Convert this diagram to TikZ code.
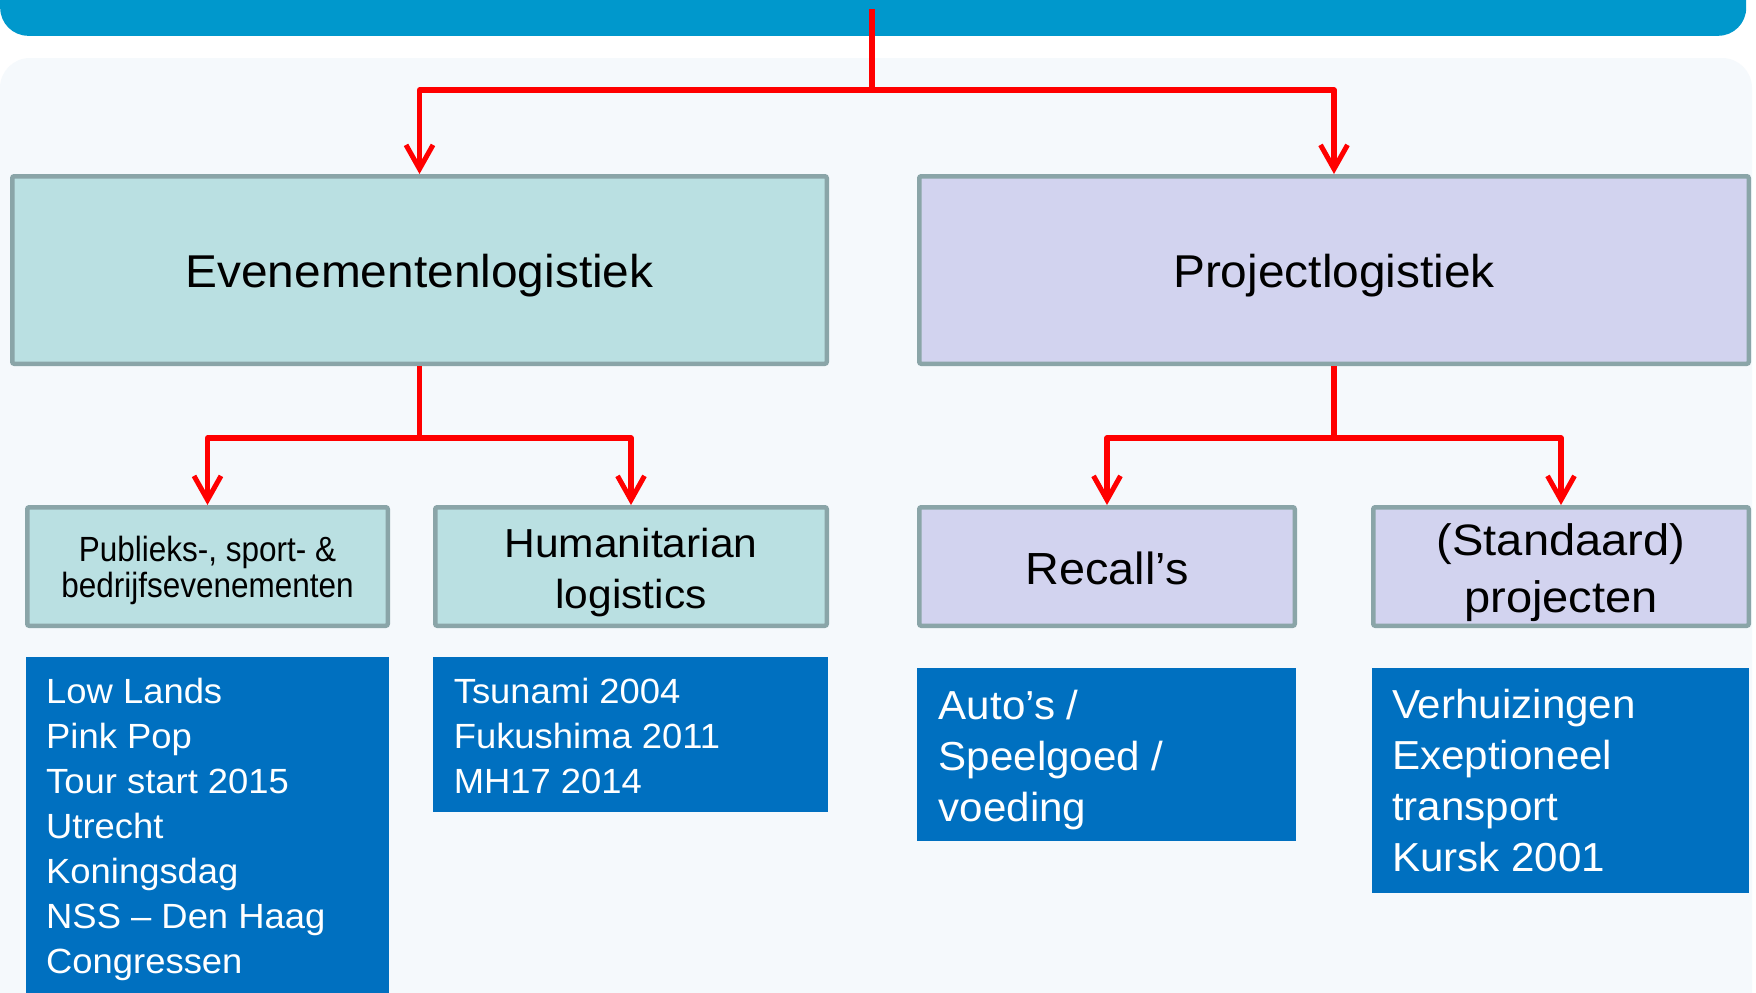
\documentclass[tikz,border=0pt]{standalone}
\usepackage{fontspec}
\setmainfont{Liberation Sans}
\usetikzlibrary{arrows.meta}
\definecolor{barblue}{RGB}{0,152,204}
\definecolor{panel}{RGB}{245,249,252}
\definecolor{evfill}{RGB}{186,224,226}
\definecolor{prfill}{RGB}{210,211,239}
\definecolor{bordergray}{RGB}{138,165,168}
\definecolor{listblue}{RGB}{0,112,192}
\definecolor{redline}{RGB}{255,0,0}
\newcommand\myfont[3]{\fontsize{#1}{#2}\selectfont\addfontfeatures{FakeStretch=#3}}
\newcommand\topstrut{\rule{0pt}{50pt}}
\tikzset{
  catbox/.style={draw=bordergray, line width=4.5pt, rounded corners=2pt, inner sep=0pt},
  cattext/.style={inner sep=0pt, align=center, text=black},
  listbox/.style={fill=listblue, inner sep=0pt, anchor=north west},
  listtext/.style={inner sep=0pt, anchor=north west, align=left, text=white},
  conn/.style={draw=redline, line width=5.2pt, line join=round},
  arr/.style={conn, -{Straight Barb[length=24pt,width=27pt,line width=5pt]}}
}
\begin{document}
\begin{tikzpicture}[x=1pt,y=-1pt]
\useasboundingbox (0,0) rectangle (1756,993);
\fill[white] (0,0) rectangle (1756,993);
\begin{scope}
\clip (0,0) rectangle (1756,993);
\fill[panel, rounded corners=30pt] (0,58) rectangle (1752,1060);
\node[fill=barblue, rounded corners=28pt, minimum width=1746pt, minimum height=96pt, inner sep=0pt, anchor=south west] (bar) at (0,36) {};
\end{scope}
\coordinate (root) at (872,9);

% category boxes
\node[catbox, fill=evfill, minimum width=814.5pt, minimum height=187.5pt] (ev) at (419.5,270) {};
\node[catbox, fill=prfill, minimum width=829.5pt, minimum height=187.5pt] (pr) at (1334,270) {};
\node[catbox, fill=evfill, minimum width=360.5pt, minimum height=118.5pt] (pub) at (207.5,566.5) {};
\node[catbox, fill=evfill, minimum width=391.5pt, minimum height=118.5pt] (hum) at (631,566.5) {};
\node[catbox, fill=prfill, minimum width=375.5pt, minimum height=118.5pt] (rec) at (1107,566.5) {};
\node[catbox, fill=prfill, minimum width=375.5pt, minimum height=118.5pt] (std) at (1561,566.5) {};

\node[cattext, anchor=base, font=\myfont{46}{50}{1.04}] (evtext) at (419.5,287) {Evenementenlogistiek};
\node[cattext, anchor=base, font=\myfont{46}{50}{1.04}] (prtext) at (1334,287) {Projectlogistiek};
\node[cattext, anchor=north, font=\myfont{35}{36}{0.9}] (pubtext) at (207.5,511) {\topstrut Publieks-, sport- \&\\bedrijfsevenementen};
\node[cattext, anchor=north, font=\myfont{40.5}{51}{1.05}] (humtext) at (631,507) {\topstrut Humanitarian\\logistics};
\node[cattext, anchor=base, font=\myfont{45}{50}{1.04}] (rectext) at (1107,584) {Recall’s};
\node[cattext, anchor=north, font=\myfont{44}{57}{1.07}] (stdtext) at (1561,505) {\topstrut (Standaard)\\projecten};

% list boxes
\node[listbox, minimum width=363pt, minimum height=343pt] (lowbox) at (26,657) {};
\node[listbox, minimum width=395pt, minimum height=155pt] (tsubox) at (433,657) {};
\node[listbox, minimum width=379pt, minimum height=173pt] (autobox) at (917,668) {};
\node[listbox, minimum width=377pt, minimum height=225pt] (verhbox) at (1372,668) {};

\node[listtext, font=\myfont{35}{45}{1.04}] (lowtext) at (46,653) {\topstrut Low Lands\\Pink Pop\\Tour start 2015\\Utrecht\\Koningsdag\\NSS – Den Haag\\Congressen};
\node[listtext, font=\myfont{35}{45}{1.04}] (tsutext) at (453.6,653) {\topstrut Tsunami 2004\\Fukushima 2011\\MH17 2014};
\node[listtext, font=\myfont{40.5}{51}{1.04}] (autotext) at (938.6,669) {\topstrut Auto’s /\\Speelgoed /\\voeding};
\node[listtext, font=\myfont{40.5}{51}{1.04}] (verhtext) at (1392,668) {\topstrut Verhuizingen\\Exeptioneel\\transport\\Kursk 2001};

% connectors
\coordinate (j0) at (872,90);
\draw[conn] (root) -- (j0);
\draw[arr] (j0) -| (ev.north);
\draw[arr] (j0) -| (pr.north);
\path (ev.south) ++(0,72) coordinate (j1);
\path (pr.south) ++(0,72) coordinate (j2);
\draw[conn] (ev.south) -- (j1);
\draw[arr] (j1) -| (pub.north);
\draw[arr] (j1) -| (hum.north);
\draw[conn] (pr.south) -- (j2);
\draw[arr] (j2) -| (rec.north);
\draw[arr] (j2) -| (std.north);
\end{tikzpicture}
\end{document}
